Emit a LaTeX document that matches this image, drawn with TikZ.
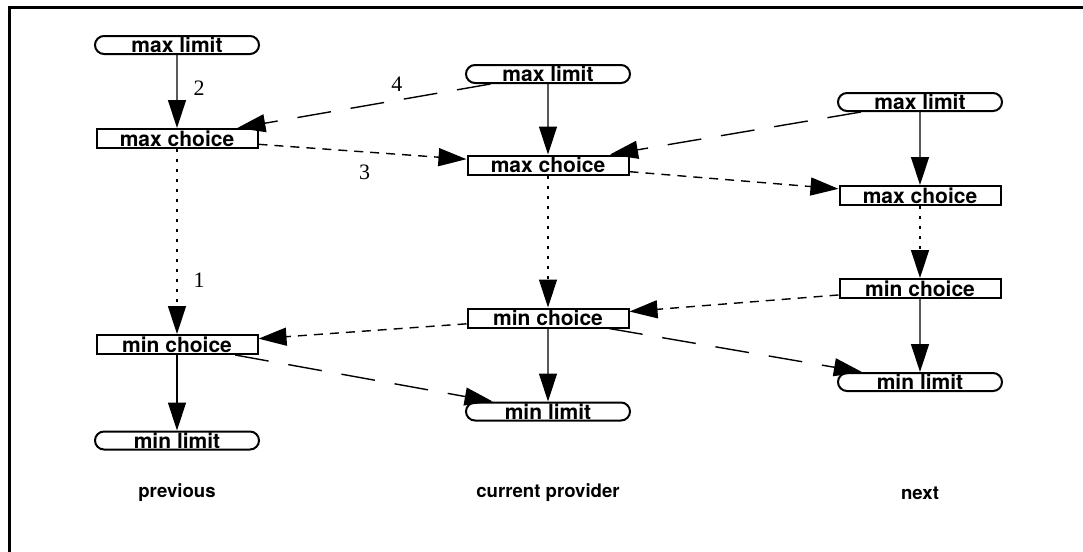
\documentclass[tikz,border=0pt]{standalone}
\usepackage{fontspec}
\setmainfont{Liberation Serif}
\setsansfont{TeX Gyre Heros}
\usepackage{tikz}
\usetikzlibrary{arrows.meta,positioning,shapes.misc}

\begin{document}
\begin{tikzpicture}[
            x=0.5pt, y=-0.5pt,
            node distance=36.5pt,
            >={Triangle[length=14pt,width=9pt]},
            box/.style={rectangle, draw, line width=1pt, minimum width=80.5pt, minimum height=9.5pt,
                        inner sep=0pt, font=\fontsize{10.5}{12}\selectfont\sffamily\bfseries},
            pill/.style={rounded rectangle, draw, line width=1pt, minimum width=82pt, minimum height=9pt,
                         inner sep=0pt, font=\fontsize{10.5}{12}\selectfont\sffamily\bfseries},
            caption/.style={font=\fontsize{9.3}{11}\selectfont\sffamily\bfseries},
            num/.style={inner sep=0pt, font=\fontsize{11}{13}\selectfont},
            link/.style={->, line width=0.7pt},
            short dash/.style={link, dash pattern=on 4.5pt off 3.5pt},
            long dash/.style={link, dash pattern=on 17pt off 10pt},
            fine dash/.style={link, dash pattern=on 1.5pt off 3.5pt}
          ]
          \useasboundingbox (0,0) rectangle (1083,552);

          % Frame
          \draw[line width=1.5pt] (9,552) -- (9,7) -- (1083,7);

          % Previous provider
          \node[pill] (pmaxl) at (177,45) {max limit};
          \node[box, below=of pmaxl] (pmaxc) {max choice};
          \node[box, below=92.5pt of pmaxc] (pminc) {min choice};
          \node[pill, below=37.75pt of pminc] (pminl) {min limit};

          % Current provider
          \node[pill] (cmaxl) at (548,74) {max limit};
          \node[box, below=35.25pt of cmaxl] (cmaxc) {max choice};
          \node[box, below=66pt of cmaxc] (cminc) {min choice};
          \node[pill, below=of cminc] (cminl) {min limit};

          % Next provider
          \node[pill] (nmaxl) at (920,102) {max limit};
          \node[box, below=of nmaxl] (nmaxc) {max choice};
          \node[box, below=36pt of nmaxc] (nminc) {min choice};
          \node[pill, below=of nminc] (nminl) {min limit};

          % Captions
          \node[caption] (lprev) at (177,493) {previous};
          \node[caption] (lcur) at (548,493) {current provider};
          \node[caption] (lnext) at (920,493) {next};

          % Edges inside each column
          \draw[link] (pmaxl) -- node[num, pos=0.45, right=8pt] (n2) {2} (pmaxc);
          \draw[link] (cmaxl) -- (cmaxc);
          \draw[link] (nmaxl) -- (nmaxc);
          \draw[fine dash] (pmaxc) -- node[num, pos=0.71, right=8pt] (n1) {1} (pminc);
          \draw[fine dash] (cmaxc) -- (cminc);
          \draw[fine dash] (nmaxc) -- (nminc);
          \draw[link] (pminc) -- (pminl);
          \draw[link] (cminc) -- (cminl);
          \draw[link] (nminc) -- (nminl);

          % Edges between columns
          \draw[short dash] (pmaxc) -- node[num, pos=0.51, below=6pt] (n3) {3} (cmaxc);
          \draw[short dash] (cmaxc) -- (nmaxc);
          \draw[short dash] (nminc) -- (cminc);
          \draw[short dash] (cminc) -- (pminc);
          \draw[long dash] (cmaxl) -- node[num, pos=0.37, above=4pt] (n4) {4} (pmaxc);
          \draw[long dash] (nmaxl) -- (cmaxc);
          \draw[long dash] (pminc) -- (cminl);
          \draw[long dash] (cminc) -- (nminl);

        \end{tikzpicture}
\end{document}
